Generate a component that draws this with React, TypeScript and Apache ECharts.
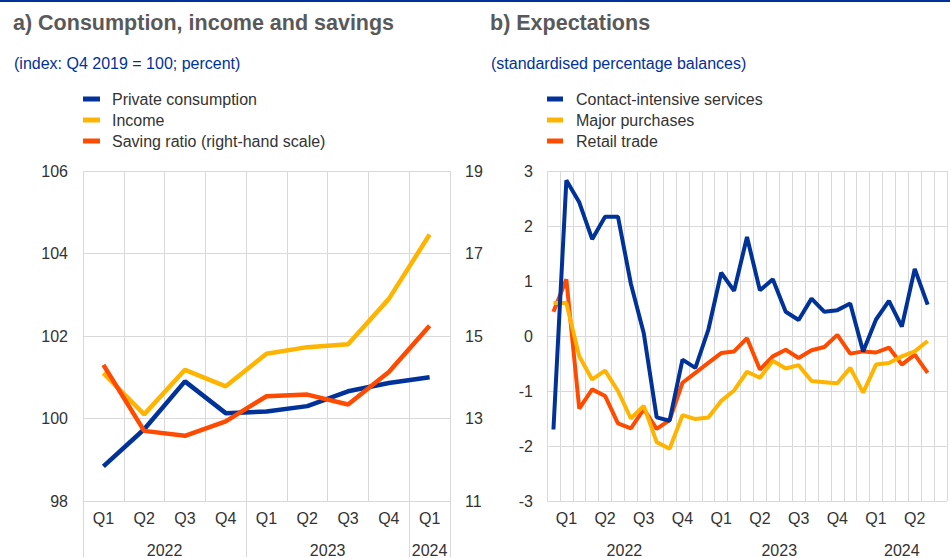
import React, { useEffect, useRef } from "react";
import * as echarts from "echarts";

// ---------- Data ----------
const quarterCategories = [
  "2022 Q1", "2022 Q2", "2022 Q3", "2022 Q4",
  "2023 Q1", "2023 Q2", "2023 Q3", "2023 Q4",
  "2024 Q1",
];
const privateConsumption = [98.84, 99.74, 100.9, 100.13, 100.17, 100.3, 100.66, 100.86, 101.0];
const income = [101.1, 100.1, 101.18, 100.78, 101.57, 101.73, 101.8, 102.9, 104.46];
const savingRatio = [14.3, 12.7, 12.58, 12.93, 13.54, 13.58, 13.34, 14.13, 15.25];

const monthCategories = [
  "2022-01", "2022-02", "2022-03", "2022-04", "2022-05", "2022-06",
  "2022-07", "2022-08", "2022-09", "2022-10", "2022-11", "2022-12",
  "2023-01", "2023-02", "2023-03", "2023-04", "2023-05", "2023-06",
  "2023-07", "2023-08", "2023-09", "2023-10", "2023-11", "2023-12",
  "2024-01", "2024-02", "2024-03", "2024-04", "2024-05", "2024-06",
  "2024-07",
];
const contactIntensive = [
  -1.7, 2.83, 2.43, 1.76, 2.17, 2.17, 0.95, 0.05, -1.48, -1.54, -0.43, -0.58,
  0.11, 1.15, 0.82, 1.8, 0.83, 1.03, 0.44, 0.29, 0.68, 0.44, 0.47, 0.59,
  -0.28, 0.3, 0.64, 0.17, 1.22, 0.57,
];
const majorPurchases = [
  0.6, 0.6, -0.37, -0.79, -0.63, -1.0, -1.5, -1.27, -1.93, -2.05, -1.44, -1.51,
  -1.48, -1.18, -0.99, -0.65, -0.76, -0.45, -0.59, -0.53, -0.82, -0.84, -0.86, -0.58,
  -1.03, -0.52, -0.49, -0.37, -0.28, -0.09,
];
const retailTrade = [
  0.44, 1.03, -1.32, -0.97, -1.09, -1.59, -1.68, -1.33, -1.69, -1.53, -0.85, -0.67,
  -0.49, -0.31, -0.28, -0.04, -0.61, -0.37, -0.25, -0.4, -0.26, -0.2, 0.02, -0.32,
  -0.28, -0.3, -0.21, -0.52, -0.34, -0.67,
];

const leftYTicks = { min: 98, max: 106, step: 2 };
const leftY2Ticks = { min: 11, max: 19, step: 2 };
const rightYTicks = { min: -3, max: 3, step: 1 };

// ---------- Styling ----------
const BLUE = "#003299";
const YELLOW = "#ffb400";
const RED = "#ff4b00";
const GRID = "#d9d9d9";
const LABEL = "#333333";
const FONT = '"Liberation Sans", Arial, Helvetica, sans-serif';

function yearGroups(cats: string[], getYear: (c: string) => string) {
  const groups: { year: string; start: number; end: number; center: number }[] = [];
  cats.forEach((c, i) => {
    const y = getYear(c);
    const last = groups[groups.length - 1];
    if (last && last.year === y) last.end = i + 1;
    else groups.push({ year: y, start: i, end: i + 1, center: 0 });
  });
  groups.forEach((g) => (g.center = (g.start + g.end) / 2));
  return groups;
}

export default function App() {
  const ref = useRef<HTMLDivElement>(null);

  useEffect(() => {
    if (!ref.current) return;
    const chart = echarts.init(ref.current, undefined, { renderer: "svg" });

    const qGroups = yearGroups(quarterCategories, (c) => c.split(" ")[0]);
    const mGroups = yearGroups(monthCategories, (c) => c.split("-")[0]);

    const yearFormatter = (groups: typeof qGroups) => (v: number) => {
      const g = groups.find((gg) => Math.abs(gg.center - v) < 1e-6);
      return g ? g.year : "";
    };

    const labelStyle = { fontSize: 16, color: LABEL, fontFamily: FONT };

    const option: any = {
      animation: false,
      textStyle: { fontFamily: FONT },
      graphic: [
        {
          type: "rect",
          shape: { x: 0, y: 0, width: 950, height: 2 },
          style: { fill: BLUE },
        },
      ],
      title: [
        {
          text: "a) Consumption, income and savings",
          left: 13,
          top: 12,
          padding: 0,
          textStyle: { fontSize: 21.5, fontWeight: "bold", color: "#595959", fontFamily: FONT },
        },
        {
          text: "(index: Q4 2019 = 100; percent)",
          left: 14,
          top: 55,
          padding: 0,
          textStyle: { fontSize: 16, fontWeight: "normal", color: BLUE, fontFamily: FONT },
        },
        {
          text: "b) Expectations",
          left: 490,
          top: 12,
          padding: 0,
          textStyle: { fontSize: 21.5, fontWeight: "bold", color: "#595959", fontFamily: FONT },
        },
        {
          text: "(standardised percentage balances)",
          left: 491,
          top: 55,
          padding: 0,
          textStyle: { fontSize: 16, fontWeight: "normal", color: BLUE, fontFamily: FONT },
        },
      ],
      legend: [
        {
          data: ["Private consumption", "Income", "Saving ratio (right-hand scale)"],
          orient: "vertical",
          left: 83,
          top: 91,
          padding: 0,
          itemWidth: 17,
          itemHeight: 5,
          itemGap: 5,
          icon: "rect",
          selectedMode: false,
          textStyle: { fontSize: 16, color: LABEL, fontFamily: FONT, padding: [0, 0, 0, 7] },
        },
        {
          data: ["Contact-intensive services", "Major purchases", "Retail trade"],
          orient: "vertical",
          left: 547,
          top: 91,
          padding: 0,
          itemWidth: 16,
          itemHeight: 5,
          itemGap: 5,
          icon: "rect",
          selectedMode: false,
          textStyle: { fontSize: 16, color: LABEL, fontFamily: FONT, padding: [0, 0, 0, 8] },
        },
      ],
      grid: [
        { left: 83, top: 171, right: 500, bottom: 54, containLabel: false },
        { left: 547, top: 171, right: -13, bottom: 54, containLabel: false },
      ],
      xAxis: [
        {
          gridIndex: 0,
          type: "category",
          data: quarterCategories,
          boundaryGap: true,
          axisLine: { show: true, lineStyle: { color: GRID, width: 1 } },
          axisTick: {
            show: true,
            length: 56,
            interval: (_i: number, v: string) => v.endsWith("Q1"),
            lineStyle: { color: GRID, width: 1 },
          },
          axisLabel: {
            ...labelStyle,
            margin: 9,
            interval: 0,
            formatter: (v: string) => v.split(" ")[1],
          },
          splitLine: { show: true, interval: 0, lineStyle: { color: GRID, width: 1 } },
        },
        {
          gridIndex: 0,
          type: "value",
          position: "bottom",
          min: 0,
          max: quarterCategories.length,
          interval: 0.5,
          axisLine: { show: false },
          axisTick: { show: false },
          splitLine: { show: false },
          axisLabel: { ...labelStyle, margin: 41, formatter: yearFormatter(qGroups) },
        },
        {
          gridIndex: 1,
          type: "category",
          data: monthCategories,
          boundaryGap: true,
          axisLine: { show: true, lineStyle: { color: GRID, width: 1 } },
          axisTick: {
            show: true,
            length: 56,
            interval: (_i: number, v: string) => v.endsWith("-01"),
            lineStyle: { color: GRID, width: 1 },
          },
          axisLabel: {
            ...labelStyle,
            margin: 9,
            interval: (i: number) => i % 3 === 1,
            formatter: (v: string) => "Q" + Math.ceil(parseInt(v.split("-")[1], 10) / 3),
          },
          splitLine: { show: true, interval: 0, lineStyle: { color: GRID, width: 1 } },
        },
        {
          gridIndex: 1,
          type: "value",
          position: "bottom",
          min: 0,
          max: monthCategories.length,
          interval: 0.5,
          axisLine: { show: false },
          axisTick: { show: false },
          splitLine: { show: false },
          axisLabel: { ...labelStyle, margin: 41, formatter: yearFormatter(mGroups) },
        },
      ],
      yAxis: [
        {
          gridIndex: 0,
          type: "value",
          position: "left",
          min: leftYTicks.min,
          max: leftYTicks.max,
          interval: leftYTicks.step,
          axisLine: { show: false },
          axisTick: { show: false },
          axisLabel: { ...labelStyle, margin: 15 },
          splitLine: { show: true, lineStyle: { color: GRID, width: 1 } },
        },
        {
          gridIndex: 0,
          type: "value",
          position: "right",
          min: leftY2Ticks.min,
          max: leftY2Ticks.max,
          interval: 1,
          axisLine: { show: false },
          axisTick: { show: false },
          axisLabel: {
            ...labelStyle,
            margin: 15,
            formatter: (v: number) =>
              (v - leftY2Ticks.min) % leftY2Ticks.step === 0 ? String(v) : "",
          },
          splitLine: { show: false },
        },
        {
          gridIndex: 1,
          type: "value",
          position: "left",
          min: rightYTicks.min,
          max: rightYTicks.max,
          interval: rightYTicks.step,
          axisLine: { show: false },
          axisTick: { show: false },
          axisLabel: { ...labelStyle, margin: 14 },
          splitLine: { show: true, lineStyle: { color: GRID, width: 1 } },
        },
      ],
      series: [
        {
          name: "Private consumption",
          type: "line",
          xAxisIndex: 0,
          yAxisIndex: 0,
          data: privateConsumption,
          symbol: "none",
          color: BLUE,
          lineStyle: { color: BLUE, width: 4.5 },
          z: 3,
        },
        {
          name: "Income",
          type: "line",
          xAxisIndex: 0,
          yAxisIndex: 0,
          data: income,
          symbol: "none",
          color: YELLOW,
          lineStyle: { color: YELLOW, width: 4.5 },
          z: 4,
        },
        {
          name: "Saving ratio (right-hand scale)",
          type: "line",
          xAxisIndex: 0,
          yAxisIndex: 1,
          data: savingRatio,
          symbol: "none",
          color: RED,
          lineStyle: { color: RED, width: 4.5 },
          z: 5,
        },
        {
          name: "Retail trade",
          type: "line",
          xAxisIndex: 2,
          yAxisIndex: 2,
          data: retailTrade,
          symbol: "none",
          color: RED,
          lineStyle: { color: RED, width: 4 },
          z: 3,
        },
        {
          name: "Major purchases",
          type: "line",
          xAxisIndex: 2,
          yAxisIndex: 2,
          data: majorPurchases,
          symbol: "none",
          color: YELLOW,
          lineStyle: { color: YELLOW, width: 4 },
          z: 4,
        },
        {
          name: "Contact-intensive services",
          type: "line",
          xAxisIndex: 2,
          yAxisIndex: 2,
          data: contactIntensive,
          symbol: "none",
          color: BLUE,
          lineStyle: { color: BLUE, width: 4 },
          z: 5,
        },
      ],
    };

    chart.setOption(option);
    return () => chart.dispose();
  }, []);

  return (
    <div
      ref={ref}
      style={{
        position: "fixed",
        left: 0,
        top: 0,
        width: 950,
        height: 558,
        overflow: "hidden",
        background: "#ffffff",
      }}
    />
  );
}
